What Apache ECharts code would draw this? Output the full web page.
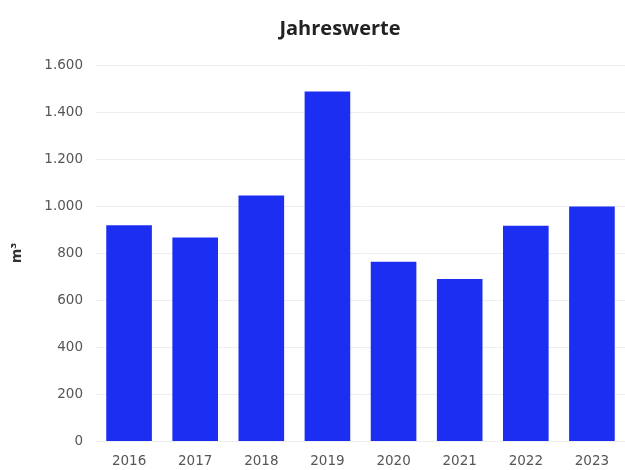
<!DOCTYPE html>
<html><head><meta charset="utf-8">
<script src="https://cdn.jsdelivr.net/npm/echarts@6/dist/echarts.min.js"></script>
<style>html,body{margin:0;padding:0;background:#fff}#c{width:625px;height:470px}</style>
</head><body><div id="c"></div>
<script>
const categories = ['2016','2017','2018','2019','2020','2021','2022','2023'];
const values = [918, 866, 1045, 1487, 763, 689, 916, 998];
const yTicks = [0, 200, 400, 600, 800, 1000, 1200, 1400, 1600];
const titleText = 'Jahreswerte';
const yName = 'm³';

function fmt(v){ return String(v).replace(/\B(?=(\d{3})+(?!\d))/g, '.'); }

const chart = echarts.init(document.getElementById('c'), null, {renderer:'canvas'});
chart.setOption({
  animation:false,
  backgroundColor:'#fff',
  title:{text:titleText, left:335, top:14, textAlign:'center',
    textStyle:{fontFamily:'Open Sans', fontWeight:'bold', fontSize:20, color:'#222'}},
  grid:{left:96, right:-4, top:65, bottom:29, containLabel:false},
  xAxis:{type:'category', data:categories,
    axisLine:{show:false}, axisTick:{show:false},
    axisLabel:{color:'#555', fontFamily:'DejaVu Sans', fontSize:13.5, margin:13}},
  yAxis:{type:'value', min:yTicks[0], max:yTicks[yTicks.length-1], interval:200,
    name:yName, nameLocation:'middle', nameGap:72, nameRotate:90,
    nameTextStyle:{fontFamily:'DejaVu Sans', fontWeight:'bold', fontSize:14, color:'#333'},
    axisLine:{show:false}, axisTick:{show:false},
    splitLine:{lineStyle:{color:'#eeeeee', width:1}},
    axisLabel:{color:'#555', fontFamily:'DejaVu Sans', fontSize:13.5, margin:13, formatter:fmt}},
  series:[{type:'bar', data:values, barWidth:'69%', itemStyle:{color:'#1c2ef2'}}]
});
</script></body></html>
